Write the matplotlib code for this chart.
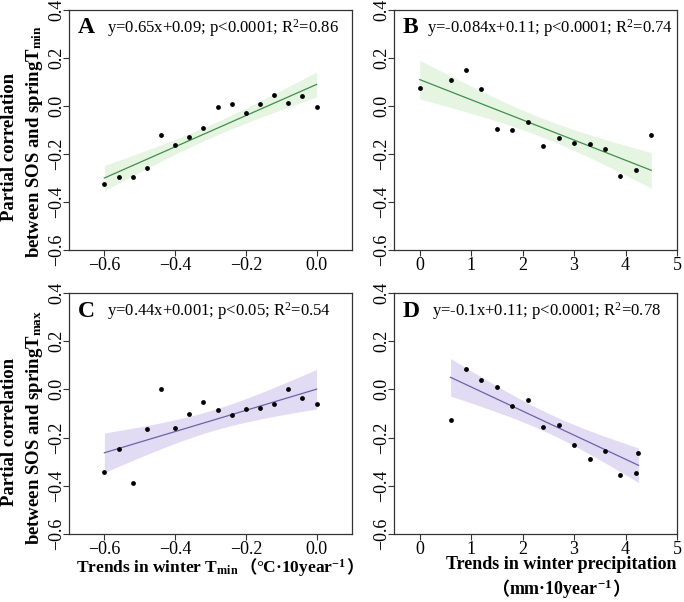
import numpy as np
import matplotlib
matplotlib.use('Agg')
import matplotlib.pyplot as plt
from matplotlib.offsetbox import TextArea, HPacker, VPacker, AnnotationBbox

plt.rcParams['font.family'] = ['Liberation Serif', 'Noto Sans CJK SC']
plt.rcParams['mathtext.fontset'] = 'custom'
plt.rcParams['mathtext.rm'] = 'Liberation Serif'
plt.rcParams['mathtext.bf'] = 'Liberation Serif:bold'
plt.rcParams['mathtext.it'] = 'Liberation Serif:italic'

# Data
tmin_x = [-0.60, -0.56, -0.52, -0.48, -0.44, -0.40, -0.36, -0.32, -0.28, -0.24,
          -0.20, -0.16, -0.12, -0.08, -0.04, 0.00]
a_y = [-0.327, -0.294, -0.297, -0.258, -0.120, -0.163, -0.130, -0.092, -0.003, 0.010,
       -0.029, 0.010, 0.044, 0.014, 0.041, -0.003]
c_y = [-0.342, -0.246, -0.389, -0.164, 0.003, -0.159, -0.102, -0.052, -0.084, -0.108,
       -0.080, -0.076, -0.061, 0.000, -0.037, -0.059]

b_x = [0.0, 0.6, 0.9, 1.2, 1.5, 1.8, 2.1, 2.4, 2.7, 3.0, 3.3, 3.6, 3.9, 4.2, 4.5]
b_y = [0.077, 0.110, 0.149, 0.072, -0.095, -0.102, -0.066, -0.168, -0.135, -0.156,
       -0.159, -0.179, -0.292, -0.268, -0.119]

d_x = [0.6, 0.9, 1.2, 1.5, 1.8, 2.1, 2.4, 2.7, 3.0, 3.3, 3.6, 3.9, 4.2, 4.25]
d_y = [-0.126, 0.086, 0.040, 0.011, -0.068, -0.043, -0.156, -0.149, -0.229, -0.289,
       -0.256, -0.357, -0.346, -0.264]

equations = [
    'y=0.65x+0.09; p<0.0001; R$^2$=0.86',
    'y=-0.084x+0.11; p<0.0001; R$^2$=0.74',
    'y=0.44x+0.001; p<0.05; R$^2$=0.54',
    'y=-0.1x+0.11; p<0.0001; R$^2$=0.78',
]
# reported fits (slope, intercept)
fits = [(0.65, 0.09), (-0.084, 0.11), (0.44, 0.001), (-0.1, 0.11)]

y_ticks = [-0.6, -0.4, -0.2, 0.0, 0.2, 0.4]

green_line, green_band = '#3f8f4a', '#e6f4e2'
purple_line, purple_band = '#6e62a8', '#e2dbf4'

fig = plt.figure(figsize=(6.84, 6.02), dpi=100)
axA = fig.add_axes([0.1009, 0.5847, 0.4137, 0.3987])
axB = fig.add_axes([0.5760, 0.5847, 0.4138, 0.3987])
axC = fig.add_axes([0.1009, 0.1130, 0.4137, 0.4003])
axD = fig.add_axes([0.5760, 0.1130, 0.4138, 0.4003])

panels = [
    (axA, tmin_x, a_y, 'A', green_line, green_band, (-0.7, 0.1), [-0.6, -0.4, -0.2, 0.0], 0.134),
    (axB, b_x, b_y, 'B', green_line, green_band, (-0.5, 5), [0, 1, 2, 3, 4, 5], 0.117),
    (axC, tmin_x, c_y, 'C', purple_line, purple_band, (-0.7, 0.1), [-0.6, -0.4, -0.2, 0.0], 0.134),
    (axD, d_x, d_y, 'D', purple_line, purple_band, (-0.5, 5), [0, 1, 2, 3, 4, 5], 0.134),
]

def fmt(v):
    return (f'{v:.1f}' if isinstance(v, float) else str(v)).replace('-', '\u2212')

for i, (ax, x, y, letter, lc, bc, xlim, xticks, eq_x) in enumerate(panels):
    x = np.array(x)
    y = np.array(y)
    slope, icpt = fits[i]
    xs = np.linspace(x.min(), x.max(), 100)
    yhat = slope * xs + icpt
    # 95% confidence band around the fitted line
    n = len(x)
    resid = y - (slope * x + icpt)
    s = np.sqrt(np.sum(resid ** 2) / (n - 2))
    se = s * np.sqrt(1.0 / n + (xs - x.mean()) ** 2 / np.sum((x - x.mean()) ** 2))
    t = 2.14
    ax.fill_between(xs, yhat - t * se, yhat + t * se, color=bc, lw=0, zorder=1)
    ax.plot(xs, yhat, color=lc, lw=0.9, zorder=2)
    ax.scatter(x, y, s=12, color='black', zorder=3, linewidths=0)

    ax.set_xlim(*xlim)
    ax.set_ylim(-0.6, 0.4)
    ax.set_xticks(xticks)
    ax.set_yticks(y_ticks)
    ax.set_xticklabels([fmt(v) for v in xticks])
    ax.set_yticklabels([fmt(v) for v in y_ticks], rotation=90, rotation_mode='anchor',
                       ha='center', va='baseline')
    ax.tick_params(labelsize=13, length=4, width=0.8, color='#333333')
    ax.tick_params(axis='x', pad=1)
    ax.tick_params(axis='y', pad=1.5)
    for sp in ax.spines.values():
        sp.set_color('#333333')
        sp.set_linewidth(0.9)

    ax.text(0.03, 0.925, letter, transform=ax.transAxes, fontsize=17, fontweight='bold',
            va='center', ha='left')
    ax.text(eq_x, 0.925, equations[i], transform=ax.transAxes, fontsize=12,
            va='center', ha='left')

# y labels (two lines, rotated)
ylab1 = 'Partial correlation'
ylab2 = 'between SOS and spring$\\mathbf{T_{%s}}$'
for y1, y2, sub in [(147, 142, 'min'), (432, 427, 'max')]:
    fig.text(10 / 684, 1 - y1 / 602, ylab1, rotation=90, fontsize=13.5, fontweight='bold',
             ha='center', va='center')
    fig.text(35 / 684, 1 - y2 / 602, ylab2 % sub, rotation=90, fontsize=13.5, fontweight='bold',
             ha='center', va='center')

# x labels with full-width brackets
serif = dict(fontsize=13, fontweight='bold', fontfamily='Liberation Serif')
cjk = dict(fontsize=13, fontweight='bold', fontfamily='Noto Sans CJK SC')
serif_c = dict(serif, fontsize=12.5)
cjk_c = dict(cjk, fontsize=12.5)

def label_row(parts):
    return HPacker(children=[TextArea(t, textprops=p) for t, p in parts],
                   pad=0, sep=0, align='baseline')

c_box = label_row([('Trends in winter $\\mathbf{T_{min}}$', serif_c), ('（', cjk_c),
                   ('°C·10year$\\mathbf{^{-1}}$', serif_c), ('）', cjk_c)])
axC.add_artist(AnnotationBbox(c_box, (0.534, -0.097), xycoords='axes fraction',
                              box_alignment=(0.5, 1), frameon=False, pad=0))

d_box = VPacker(children=[label_row([('Trends in winter precipitation', serif)]),
                          label_row([('（', cjk), ('mm·10year$\\mathbf{^{-1}}$', serif), ('）', cjk)])],
                pad=0, sep=3, align='center')
axD.add_artist(AnnotationBbox(d_box, (0.59, -0.093), xycoords='axes fraction',
                              box_alignment=(0.5, 1), frameon=False, pad=0))

fig.savefig('out.png', dpi=100)
